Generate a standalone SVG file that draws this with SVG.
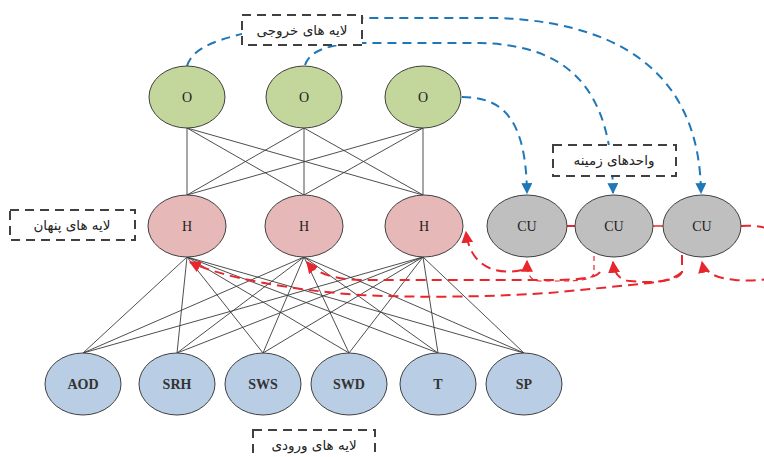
<svg xmlns="http://www.w3.org/2000/svg" width="764" height="457" viewBox="0 0 764 457">
<style>
.nd{stroke:#404040;stroke-width:1}
.o{fill:#c3d69b}.h{fill:#e6b9b8}.cu{fill:#bfbfbf}.in{fill:#b9cde5}
.t{font-family:"Liberation Serif","Times New Roman",serif;font-size:14px;fill:#222;text-anchor:middle}
.tb{font-family:"Liberation Serif","Times New Roman",serif;font-size:14px;font-weight:bold;fill:#333;text-anchor:middle}
.lbl{fill:#fff;stroke:#404040;stroke-width:2;stroke-dasharray:9 6}
.fa{font-family:"DejaVu Sans",sans-serif;font-size:13.5px;fill:#222;text-anchor:middle}
.ln{stroke:#3a3a3a;stroke-width:0.9;fill:none}
.bl{stroke:#1f77b8;stroke-width:2;stroke-dasharray:9 6;fill:none}
.rd{stroke:#e8262e;stroke-width:2;stroke-dasharray:10 6;fill:none}
.rdt{stroke:#e8262e;stroke-width:1.2;stroke-dasharray:5 4;fill:none}
</style>
<defs>
<marker id="ab" viewBox="0 0 10 10" refX="9" refY="5" markerWidth="5.5" markerHeight="5.5" orient="auto" markerUnits="strokeWidth"><path d="M0,0 L10,5 L0,10 z" fill="#1f77b8"/></marker>
<marker id="ar" viewBox="0 0 10 10" refX="9" refY="5" markerWidth="6" markerHeight="6" orient="auto" markerUnits="strokeWidth"><path d="M0,0 L10,5 L0,10 z" fill="#e8262e"/></marker>
<marker id="ar2" viewBox="0 0 10 10" refX="9" refY="5" markerWidth="10" markerHeight="10" orient="auto" markerUnits="strokeWidth"><path d="M0,0 L10,5 L0,10 z" fill="#e8262e"/></marker>
</defs>
<g id="connectors">
<g id="o-h">
<path class="ln" d="M187,128 L187,195 M187,128 L304,195 M187,128 L423,195 M304,128 L187,195 M304,128 L304,195 M304,128 L423,195 M423,128 L187,195 M423,128 L304,195 M423,128 L423,195"/>
</g>
<g id="h-in">
<path class="ln" d="M187,257 L83,353 M187,257 L177,353 M187,257 L263,353 M187,257 L349,353 M187,257 L438,353 M187,257 L524,353"/>
<path class="ln" d="M304,257 L83,353 M304,257 L177,353 M304,257 L263,353 M304,257 L349,353 M304,257 L438,353 M304,257 L524,353"/>
<path class="ln" d="M423,257 L83,353 M423,257 L177,353 M423,257 L263,353 M423,257 L349,353 M423,257 L438,353 M423,257 L524,353"/>
</g>
<g id="blue">
<path class="bl" marker-end="url(#ab)" d="M187,66 C193,46 222,38 260,30 L300,22 Q330,18 362,18 L500,18 C640,24 700,90 701,193"/>
<path class="bl" marker-end="url(#ab)" d="M305,65 C310,50 330,44 362,43 L480,43 C570,45 612,90 613,193"/>
<path class="bl" marker-end="url(#ab)" d="M462,97 C502,97 526,118 527,193"/>
</g>
<g id="red">
<path class="rd" marker-end="url(#ar)" d="M522,270 C495,276 470,266 466,232"/>
<path class="rdt" marker-end="url(#ar2)" d="M594,256 L594,272 C594,280 580,281 560,281 L540,281 C530,281 527,274 527,261"/>
<path class="rd" marker-end="url(#ar)" d="M600,272 C596,278 580,280 550,280 L360,280 C330,279 315,272 307,262"/>
<path class="rd" marker-end="url(#ar)" d="M682,255 L682,272 C680,278 670,280 650,283 L560,292 C500,297 420,298 360,295 C290,290 220,277 190,262"/>
<path class="rd" marker-end="url(#ar)" d="M682,272 C670,283 650,283 630,281 C618,280 614,272 613,262"/>
<path class="rd" marker-end="url(#ar)" d="M741,226 C765,224 790,232 790,255 C790,280 760,282 735,280 C715,278 704,272 702,262"/>
<path class="rd" d="M567,226 L575,226"/>
<path stroke="#e8262e" stroke-width="1.5" d="M653,226 L663,226"/>
</g>
</g>
<g id="node-o1"><ellipse class="nd o" cx="187" cy="97" rx="38" ry="31"/><text class="t" x="187" y="102">O</text></g>
<g id="node-o2"><ellipse class="nd o" cx="304" cy="97" rx="38" ry="31"/><text class="t" x="304" y="102">O</text></g>
<g id="node-o3"><ellipse class="nd o" cx="423" cy="97" rx="38" ry="31"/><text class="t" x="423" y="102">O</text></g>
<g id="node-h1"><ellipse class="nd h" cx="187" cy="226" rx="39" ry="31"/><text class="t" x="187" y="231">H</text></g>
<g id="node-h2"><ellipse class="nd h" cx="304" cy="226" rx="39" ry="31"/><text class="t" x="304" y="231">H</text></g>
<g id="node-h3"><ellipse class="nd h" cx="424" cy="226" rx="39" ry="31"/><text class="t" x="424" y="231">H</text></g>
<g id="node-cu1"><ellipse class="nd cu" cx="527" cy="226" rx="40" ry="31"/><text class="t" x="527" y="231">CU</text></g>
<g id="node-cu2"><ellipse class="nd cu" cx="614" cy="226" rx="39" ry="31"/><text class="t" x="614" y="231">CU</text></g>
<g id="node-cu3"><ellipse class="nd cu" cx="702" cy="226" rx="39" ry="31"/><text class="t" x="702" y="231">CU</text></g>
<g id="node-aod"><ellipse class="nd in" cx="83" cy="384" rx="38" ry="31"/><text class="tb" x="83" y="389">AOD</text></g>
<g id="node-srh"><ellipse class="nd in" cx="177" cy="384" rx="38" ry="31"/><text class="tb" x="177" y="389">SRH</text></g>
<g id="node-sws"><ellipse class="nd in" cx="263" cy="384" rx="38" ry="31"/><text class="tb" x="263" y="389">SWS</text></g>
<g id="node-swd"><ellipse class="nd in" cx="349" cy="384" rx="38" ry="31"/><text class="tb" x="349" y="389">SWD</text></g>
<g id="node-t"><ellipse class="nd in" cx="438" cy="384" rx="38" ry="31"/><text class="tb" x="438" y="389">T</text></g>
<g id="node-sp"><ellipse class="nd in" cx="524" cy="384" rx="38" ry="31"/><text class="tb" x="524" y="389">SP</text></g>
<g id="label-output"><rect class="lbl" x="242" y="15" width="120" height="30"/><text class="fa" x="302" y="35">لایه های خروجی</text></g>
<g id="label-hidden"><rect class="lbl" x="10" y="210" width="125" height="30"/><text class="fa" x="72" y="230">لایه های پنهان</text></g>
<g id="label-context"><rect class="lbl" x="553" y="145" width="123" height="31"/><text class="fa" x="614" y="165">واحدهای زمینه</text></g>
<g id="label-input"><rect class="lbl" x="253" y="430" width="122" height="32"/><text class="fa" x="314" y="450">لایه های ورودی</text></g>
</svg>
